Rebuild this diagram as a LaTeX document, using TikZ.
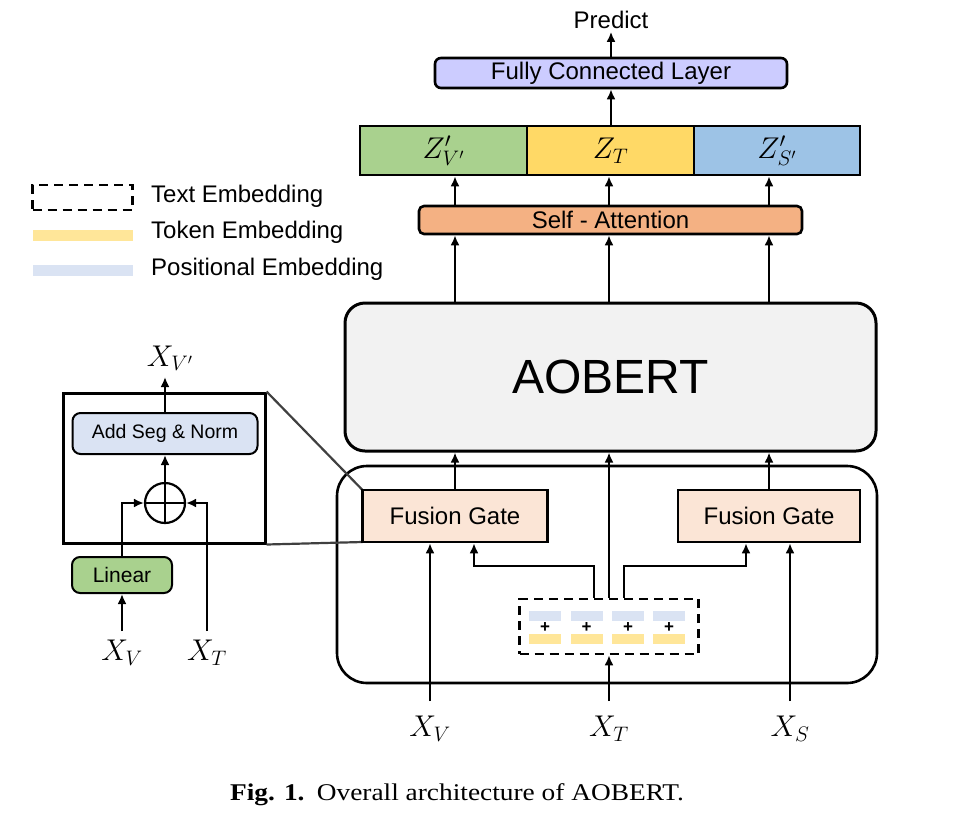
\RequirePackage{fix-cm}
\documentclass[tikz,border=0pt]{standalone}
\usepackage{fontspec}
\setmainfont{Liberation Sans}
\newfontfamily\capfont{Liberation Serif}
\usetikzlibrary{arrows.meta}
\definecolor{fcC}{HTML}{CCCCFF}
\definecolor{zG}{HTML}{A9D18E}
\definecolor{zY}{HTML}{FFD966}
\definecolor{zB}{HTML}{9DC3E6}
\definecolor{saC}{HTML}{F4B183}
\definecolor{aoC}{HTML}{F2F2F2}
\definecolor{fgC}{HTML}{FBE5D6}
\definecolor{addC}{HTML}{DAE3F3}
\definecolor{linC}{HTML}{A9D18E}
\definecolor{tokC}{HTML}{FFE699}
\definecolor{posC}{HTML}{DAE3F3}
\definecolor{zoomC}{HTML}{404040}
\begin{document}
\begin{tikzpicture}[x=1pt,y=-1pt,
  box/.style={draw, line width=2.6pt, inner sep=0pt, align=center, font=\fontsize{24}{24}\selectfont},
  arr/.style={line width=2.4pt, -{Latex[length=10pt,width=9pt]}},
  mathlab/.style={inner sep=0pt, font=\fontsize{30}{30}\selectfont},
  inlab/.style={mathlab, anchor=north, inner xsep=0pt, inner ysep=15pt},
  dashbox/.style={draw, line width=2.6pt, dash pattern=on 9pt off 6pt, inner sep=0pt},
  zoomline/.style={draw=zoomC, line width=2.2pt},
  txt/.style={inner sep=0pt, font=\fontsize{24}{24}\selectfont}]
\useasboundingbox (0,0) rectangle (960,828);

% ---------- top stack ----------
\node[txt, outer sep=3pt] (pred) at (611,20) {Predict};
\node[box, fill=fcC, rounded corners=6pt, minimum width=352pt, minimum height=30pt] (fc) at (611,73) {Fully Connected Layer};
\node[box, fill=zG, minimum width=167pt, minimum height=49pt, font=\fontsize{30}{30}\selectfont] (zV) at (443.5,150.5) {$Z'_{V'}$};
\node[box, fill=zY, minimum width=167pt, minimum height=49pt, font=\fontsize{30}{30}\selectfont] (zT) at (610.5,150.5) {$Z_T$};
\node[box, fill=zB, minimum width=166pt, minimum height=49pt, font=\fontsize{30}{30}\selectfont] (zS) at (777,150.5) {$Z'_{S'}$};
\node[box, fill=saC, rounded corners=5pt, minimum width=383pt, minimum height=28pt] (sa) at (610.5,220) {Self - Attention};
\node[box, fill=aoC, rounded corners=20pt, line width=3pt, minimum width=531pt, minimum height=148pt, font=\fontsize{48}{48}\selectfont] (ao) at (610.5,377) {AOBERT};

% ---------- lower block ----------
\node[draw, line width=2.6pt, rounded corners=30pt, minimum width=540pt, minimum height=217pt, inner sep=0pt] (outer) at (607,574.5) {};

% inset
\node[draw, line width=3pt, minimum width=202pt, minimum height=150pt, inner sep=0pt] (inset) at (164,468) {};
\draw[zoomline] (inset.north east) -- (362.5,490);
\draw[zoomline] (inset.south east) -- (362.5,542);

\node[box, fill=fgC, minimum width=185pt, minimum height=52pt] (fgL) at (455,516) {Fusion Gate};
\node[box, fill=fgC, minimum width=182pt, minimum height=52pt] (fgR) at (769,516) {Fusion Gate};

\node[dashbox, minimum width=179pt, minimum height=55pt] (emb) at (609,626.5) {};
\foreach \x in {545,586.5,628,669}{
  \fill[posC] (\x-16,611) rectangle (\x+16,621);
  \fill[tokC] (\x-16,634) rectangle (\x+16,644);
  \node[inner sep=0pt, font=\bfseries\fontsize{17}{17}\selectfont] at (\x,628) {+};
}

% labels bottom
\node[inlab] (xV) at (430,701) {$X_V$};
\node[inlab] (xT) at (609,701) {$X_T$};
\node[inlab] (xS) at (790,701) {$X_S$};

% connectors lower
\draw[arr] (xV.north) -- (xV.north |- fgL.south);
\draw[arr] (xS.north) -- (xS.north |- fgR.south);
\draw[arr] (xT.north) -- (emb.south);
\draw[arr] ([xshift=-15pt]emb.north) -- ++(0,-32) -| ([xshift=19pt]fgL.south);
\draw[arr] ([xshift=15pt]emb.north) -- ++(0,-32) -| ([xshift=-23pt]fgR.south);
\draw[arr] (emb.north) -- (emb.north |- ao.south);
\draw[arr] (fgL.north) -- (fgL.north |- ao.south);
\draw[arr] (fgR.north) -- (fgR.north |- ao.south);

% connectors upper
\draw[arr] (ao.north -| fgL) -- (sa.south -| fgL);
\draw[arr] (ao.north -| emb) -- (sa.south -| emb);
\draw[arr] (ao.north -| fgR) -- (sa.south -| fgR);
\draw[arr] (sa.north -| fgL) -- (zV.south -| fgL);
\draw[arr] (sa.north -| emb) -- (zT.south -| emb);
\draw[arr] (sa.north -| fgR) -- (zS.south -| fgR);
\draw[arr] (zT.north -| fc) -- (fc.south);
\draw[arr] (fc.north) -- (pred.south);

% inset content
\node[draw, line width=2pt, fill=addC, rounded corners=8pt, minimum width=185pt, minimum height=41pt, inner sep=0pt, font=\fontsize{19.5}{19.5}\selectfont] (add) at (165,433.5) {Add Seg \& Norm};
\node[draw, circle, line width=2.2pt, minimum size=40pt, inner sep=0pt] (plus) at (165,503) {};
\draw[line width=2.2pt] (plus.north) -- (plus.south) (plus.west) -- (plus.east);
\node[draw, line width=2pt, fill=linC, rounded corners=8pt, minimum width=100pt, minimum height=36pt, inner sep=0pt, font=\fontsize{21}{21}\selectfont] (lin) at (122,575) {Linear};
\node[mathlab, anchor=south, inner ysep=6pt] (xVp) at (170,377) {$X_{V'}$};
\node[mathlab, anchor=north, inner xsep=0pt, inner ysep=9pt] (xVi) at (122,631) {$X_V$};
\node[mathlab, anchor=north, inner xsep=0pt, inner ysep=9pt] (xTi) at (207,631) {$X_T$};
\draw[arr] (xVi.north) -- (lin.south);
\draw[arr] (lin.north) |- (plus.west);
\draw[arr] (xTi.north) |- (plus.east);
\draw[arr] (plus.north) -- (add.south);
\draw[arr] (add.north) -- (add.north |- xVp.south);

% legend
\node[dashbox, minimum width=100pt, minimum height=25pt] (legT) at (82.5,197.5) {};
\node[fill=tokC, minimum width=100pt, minimum height=11pt, inner sep=0pt] (legK) at (82.5,235.5) {};
\node[fill=posC, minimum width=100pt, minimum height=11pt, inner sep=0pt] (legP) at (82.5,270.5) {};
\node[txt, anchor=west] (legTt) at (151,196) {Text Embedding};
\node[txt, anchor=west] (legKt) at (151,232) {Token Embedding};
\node[txt, anchor=west] (legPt) at (151,269) {Positional Embedding};

% caption
\node[inner sep=0pt, font=\capfont\fontsize{24}{24}\selectfont] (cap) at (457,795) {\scalebox{1.14}[1]{\textbf{Fig. 1.}\hspace{0.45em}Overall architecture of AOBERT.}};
\end{tikzpicture}
\end{document}
